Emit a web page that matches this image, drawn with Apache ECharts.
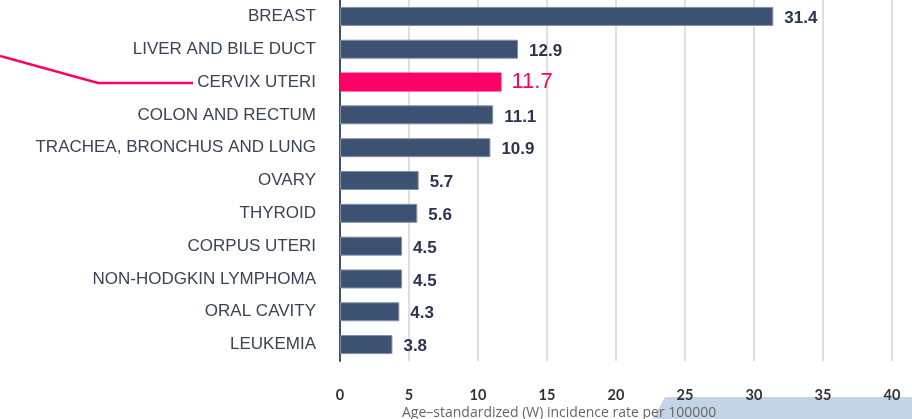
<!DOCTYPE html>
<html>
<head>
<meta charset="utf-8">
<script src="https://cdn.jsdelivr.net/npm/echarts@6/dist/echarts.min.js"></script>
<style>
html,body{margin:0;padding:0;background:#fff;}
#chart{width:912px;height:419px;}
</style>
</head>
<body>
<div id="chart"></div>
<script>
const categories = ["BREAST","LIVER AND BILE DUCT","CERVIX UTERI","COLON AND RECTUM","TRACHEA, BRONCHUS AND LUNG","OVARY","THYROID","CORPUS UTERI","NON-HODGKIN LYMPHOMA","ORAL CAVITY","LEUKEMIA"];
const values = [31.4,12.9,11.7,11.1,10.9,5.7,5.6,4.5,4.5,4.3,3.8];
const highlight = "CERVIX UTERI";
const xTicks = [0,5,10,15,20,25,30,35,40];
const axisTitle = "Age\u2013standardized (W) incidence rate per 100000";

const navy = '#3d5173';
const pink = '#ff0066';

const chart = echarts.init(document.getElementById('chart'));
const data = values.map((v,i) => {
  const hi = categories[i] === highlight;
  return {
    value: v,
    itemStyle: hi ? {color: pink, borderColor: pink} : {},
    label: hi ? {color: pink, fontSize: 22, fontWeight: 'normal', offset:[-1,0]} : {}
  };
});
chart.setOption({
  animation: false,
  grid: {left: 340, right: 20, top: -2, bottom: 58, containLabel: false},
  xAxis: {
    type: 'value', min: xTicks[0], max: xTicks[xTicks.length-1], interval: 5,
    axisLine: {show: false}, axisTick: {show: false},
    splitLine: {show: true, lineStyle: {color: '#d3d5da', width: 1.5}},
    axisLabel: {margin: 27, color: '#333', fontWeight: 'bold', fontSize: 14.5, fontFamily: 'Lato'}
  },
  yAxis: {
    type: 'category', data: categories, inverse: true,
    axisLine: {show: true, lineStyle: {color: navy, width: 2}},
    axisTick: {show: false},
    axisLabel: {margin: 24, color: '#3a4456', fontSize: 17, fontFamily: 'Liberation Sans'}
  },
  series: [{
    type: 'bar', data: data, barWidth: 19,
    itemStyle: {color: navy, borderColor: '#8391a8', borderWidth: 1},
    label: {show: true, position: 'right', distance: 11, offset: [0,2],
      color: '#2a3452', fontWeight: 'bold', fontSize: 17, fontFamily: 'Liberation Sans'}
  }],
  graphic: [
    {type: 'polygon', z: -1, shape: {points: [[653,419],[665,397],[912,397],[912,419]]}, style: {fill: '#c5d3e7'}},
    {type: 'text', left: 402, top: 406, style: {text: axisTitle, fill: '#666', font: '14px "Open Sans"'}},
    {type: 'polyline', shape: {points: [[0,56],[98,83],[193,83]]}, style: {stroke: pink, lineWidth: 2.5, fill: null}}
  ]
});
</script>
</body>
</html>
